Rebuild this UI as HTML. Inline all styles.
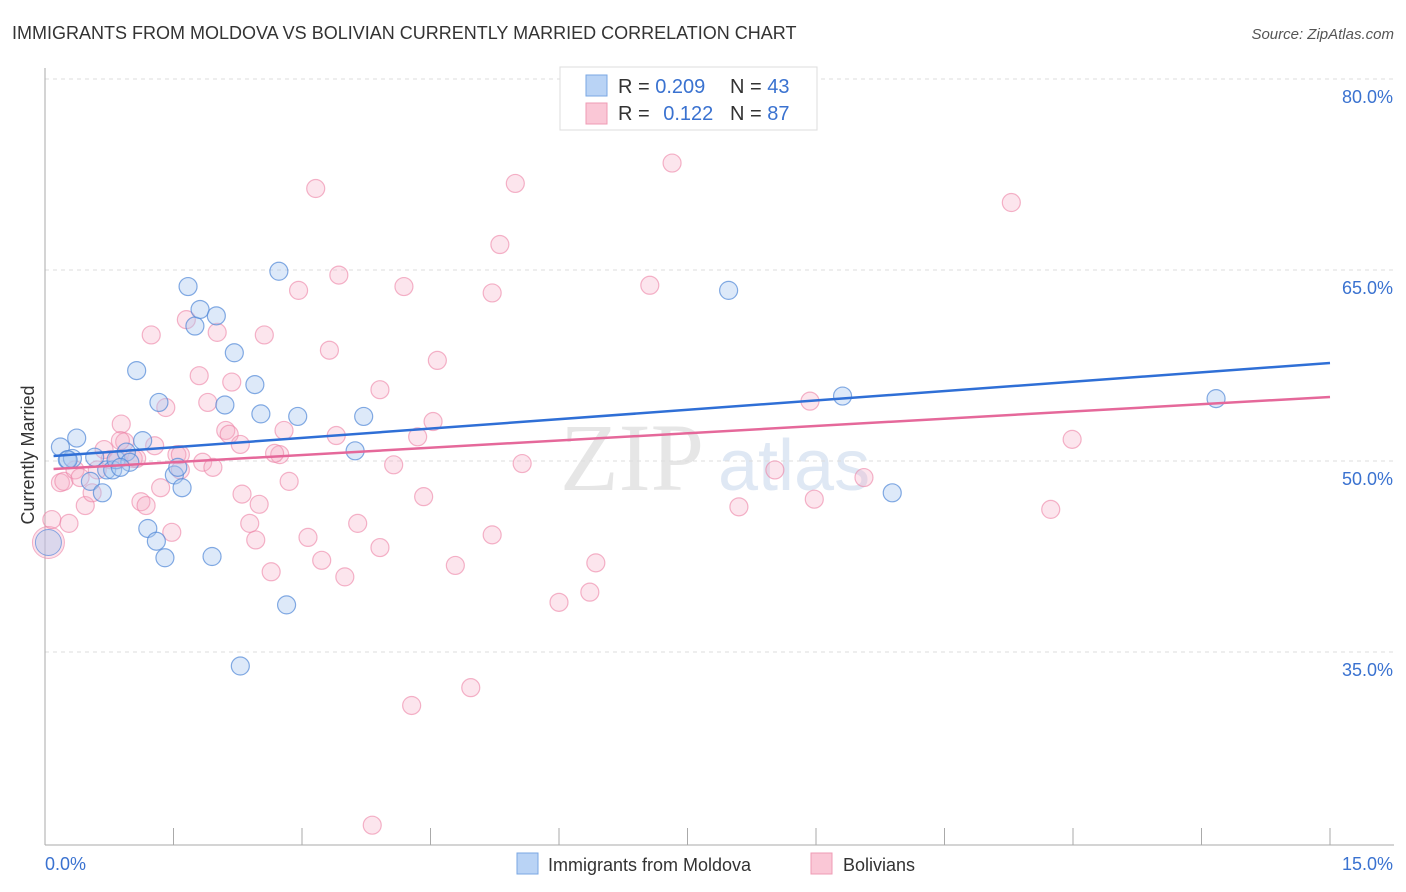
<!DOCTYPE html>
<html><head><meta charset="utf-8"><style>
body{margin:0;background:#fff;font-family:"Liberation Sans",sans-serif;}
#wrap{position:relative;width:1406px;height:892px;overflow:hidden;}
</style></head><body>
<div id="wrap">
<svg id="svg" width="1406" height="892" xmlns="http://www.w3.org/2000/svg">
<text x="12" y="39" font-size="18" fill="#333">IMMIGRANTS FROM MOLDOVA VS BOLIVIAN CURRENTLY MARRIED CORRELATION CHART</text>
<text x="1394" y="39" font-size="15" fill="#555" font-style="italic" text-anchor="end">Source: ZipAtlas.com</text>
<text x="560" y="490" font-size="96" fill="#e6e6e6" font-family="Liberation Serif,serif">ZIP</text>
<text x="718" y="490" font-size="72" fill="#dfe8f4">atlas</text>
<g id="grid"></g>
<g id="axes"></g>
<g id="pts"></g>
<g id="lines"></g>
<text transform="translate(34,455) rotate(-90)" font-size="18" fill="#333" text-anchor="middle">Currently Married</text>
<g>
<rect x="560" y="67" width="257" height="63" fill="#fff" stroke="#ddd"/>
<rect x="586" y="75" width="21" height="21" fill="#b9d3f5" stroke="#7aa7e3"/>
<rect x="586" y="103" width="21" height="21" fill="#fac7d6" stroke="#ef9bb4"/>
<text x="618" y="93" font-size="20" fill="#333">R = <tspan fill="#3a72d0">0.209</tspan></text>
<text x="730" y="93" font-size="20" fill="#333">N = <tspan fill="#3a72d0">43</tspan></text>
<text x="618" y="120" font-size="20" fill="#333">R = <tspan fill="#3a72d0" dx="8">0.122</tspan></text>
<text x="730" y="120" font-size="20" fill="#333">N = <tspan fill="#3a72d0">87</tspan></text>
</g>
<g>
<rect x="517" y="853" width="21" height="21" fill="#b9d3f5" stroke="#7aa7e3"/>
<text x="548" y="871" font-size="18" fill="#333">Immigrants from Moldova</text>
<rect x="811" y="853" width="21" height="21" fill="#fac7d6" stroke="#ef9bb4"/>
<text x="843" y="871" font-size="18" fill="#333">Bolivians</text>
</g>
</svg>
</div>
<script>
const yTicks=[35,50,65,80];
const yTickLabels=["35.0%","50.0%","65.0%","80.0%"];
const xTickLabels=["0.0%","15.0%"];
const blueX=[.18,.26,.32,.37,.58,.53,.67,.72,.79,.83,.95,.99,1.14,1.07,1.20,1.30,1.33,1.40,1.51,1.55,1.60,1.67,1.75,1.81,1.95,2.00,2.10,2.21,2.28,2.45,2.52,2.73,2.82,2.95,3.62,3.72,7.98,9.31,9.89,13.67,.27,.88];
const blueY=[51.1,50.1,50.2,51.8,50.3,48.4,47.5,49.3,49.3,50.1,50.7,49.9,51.6,57.1,44.7,43.7,54.6,42.4,48.9,49.5,47.9,63.7,60.6,61.9,42.5,61.4,54.4,58.5,33.9,56.0,53.7,64.9,38.7,53.5,50.8,53.5,63.4,55.1,47.5,54.9,50.1,49.5];
const pinkX=[.08,.18,.22,.28,.35,.41,.47,.55,.61,.69,.76,.85,.89,.93,1.03,1.07,1.12,1.18,1.24,1.28,1.35,1.41,1.48,1.54,1.58,1.65,1.80,1.84,1.90,1.96,2.01,2.11,2.15,2.18,2.28,2.30,2.39,2.46,2.50,2.56,2.64,2.74,2.79,2.85,2.96,3.07,3.16,3.23,3.40,3.43,3.32,3.50,3.65,3.82,3.91,3.91,4.07,4.19,4.28,4.35,4.42,4.53,4.58,4.79,4.97,5.22,5.22,5.31,5.49,5.57,6.00,6.36,6.43,7.06,7.32,8.10,8.52,8.93,8.98,9.56,11.28,11.74,11.99,1.58,.88,2.68];
const pinkY=[45.4,48.3,48.4,45.1,49.3,48.7,46.5,47.5,49.3,50.9,50.1,50.1,52.9,51.5,50.2,50.2,46.8,46.5,59.9,51.2,47.9,54.2,44.4,50.5,49.3,61.1,56.7,49.9,54.6,49.5,60.1,52.4,52.1,56.2,51.3,47.4,45.1,43.8,46.6,59.9,41.3,50.5,52.4,48.4,63.4,44.0,71.4,42.2,52.0,64.6,58.7,40.9,45.1,21.4,43.2,55.6,49.7,63.7,30.8,51.9,47.2,53.1,57.9,41.8,32.2,63.2,44.2,67.0,71.8,49.8,38.9,39.7,42.0,63.8,73.4,46.4,49.3,54.7,47.0,48.7,70.3,46.2,51.7,50.5,51.6,50.6];
const bigPoint=[0.04,43.6];
const blueTrend=[50.39,57.7];
const pinkTrend=[49.37,55.03];
const NS="http://www.w3.org/2000/svg";
const xs=v=>45+v/15*1285;
const ys=v=>461-(v-50)*191/15;
function mk(tag,attrs,parent){const e=document.createElementNS(NS,tag);for(const k in attrs)e.setAttribute(k,attrs[k]);parent.appendChild(e);return e;}
const grid=document.getElementById('grid'),axes=document.getElementById('axes'),pts=document.getElementById('pts'),lines=document.getElementById('lines');
yTicks.forEach((t,i)=>{
 const l=mk('line',{x1:45,x2:1394,y1:ys(t),y2:ys(t),stroke:'#ddd','stroke-dasharray':'4 4'},grid);
 
 
 const tx=mk('text',{x:1393,y:ys(t)+24,'font-size':18,fill:'#3a72d0','text-anchor':'end'},axes);
 tx.textContent=yTickLabels[i];
 
 
});
const g80=mk('line',{x1:45,x2:1394,y1:ys(80),y2:ys(80),stroke:'#ddd','stroke-dasharray':'4 4'},grid);
const ya=mk('line',{x1:45,x2:45,y1:68,y2:845,stroke:'#aaa'},axes);


const xa=mk('line',{x1:45,x2:1394,y1:845,y2:845,stroke:'#aaa'},axes);


for(let i=0;i<=10;i++){
 const t=mk('line',{x1:xs(i*1.5),x2:xs(i*1.5),y1:828,y2:845,stroke:'#aaa'},axes);
 
 
}
const xl0=mk('text',{x:45,y:870,'font-size':18,fill:'#3a72d0'},axes);
xl0.textContent=xTickLabels[0];


const xl1=mk('text',{x:1393,y:870,'font-size':18,fill:'#3a72d0','text-anchor':'end'},axes);
xl1.textContent=xTickLabels[1];


const bp=mk('circle',{cx:xs(bigPoint[0]),cy:ys(bigPoint[1]),r:16,fill:'rgba(246,170,195,0.35)',stroke:'rgba(236,130,165,0.6)'},pts);


const bb=mk('circle',{cx:xs(bigPoint[0]),cy:ys(bigPoint[1]),r:13,fill:'rgba(170,200,240,0.4)',stroke:'rgba(90,140,220,0.7)'},pts);


pinkX.forEach((x,i)=>{
 const c=mk('circle',{cx:xs(x),cy:ys(pinkY[i]),r:9,fill:'rgba(246,170,195,0.3)',stroke:'rgba(236,130,165,0.6)','stroke-width':1.2},pts);
 
 
});
blueX.forEach((x,i)=>{
 const c=mk('circle',{cx:xs(x),cy:ys(blueY[i]),r:9,fill:'rgba(170,200,240,0.4)',stroke:'rgba(80,135,215,0.7)','stroke-width':1.2},pts);
 
 
});
const bl=mk('line',{x1:xs(0.1),x2:xs(15),y1:ys(blueTrend[0]),y2:ys(blueTrend[1]),stroke:'#2f6fd6','stroke-width':2.5},lines);


const pl=mk('line',{x1:xs(0.1),x2:xs(15),y1:ys(pinkTrend[0]),y2:ys(pinkTrend[1]),stroke:'#e5689a','stroke-width':2.5},lines);


</script>
</body></html>
